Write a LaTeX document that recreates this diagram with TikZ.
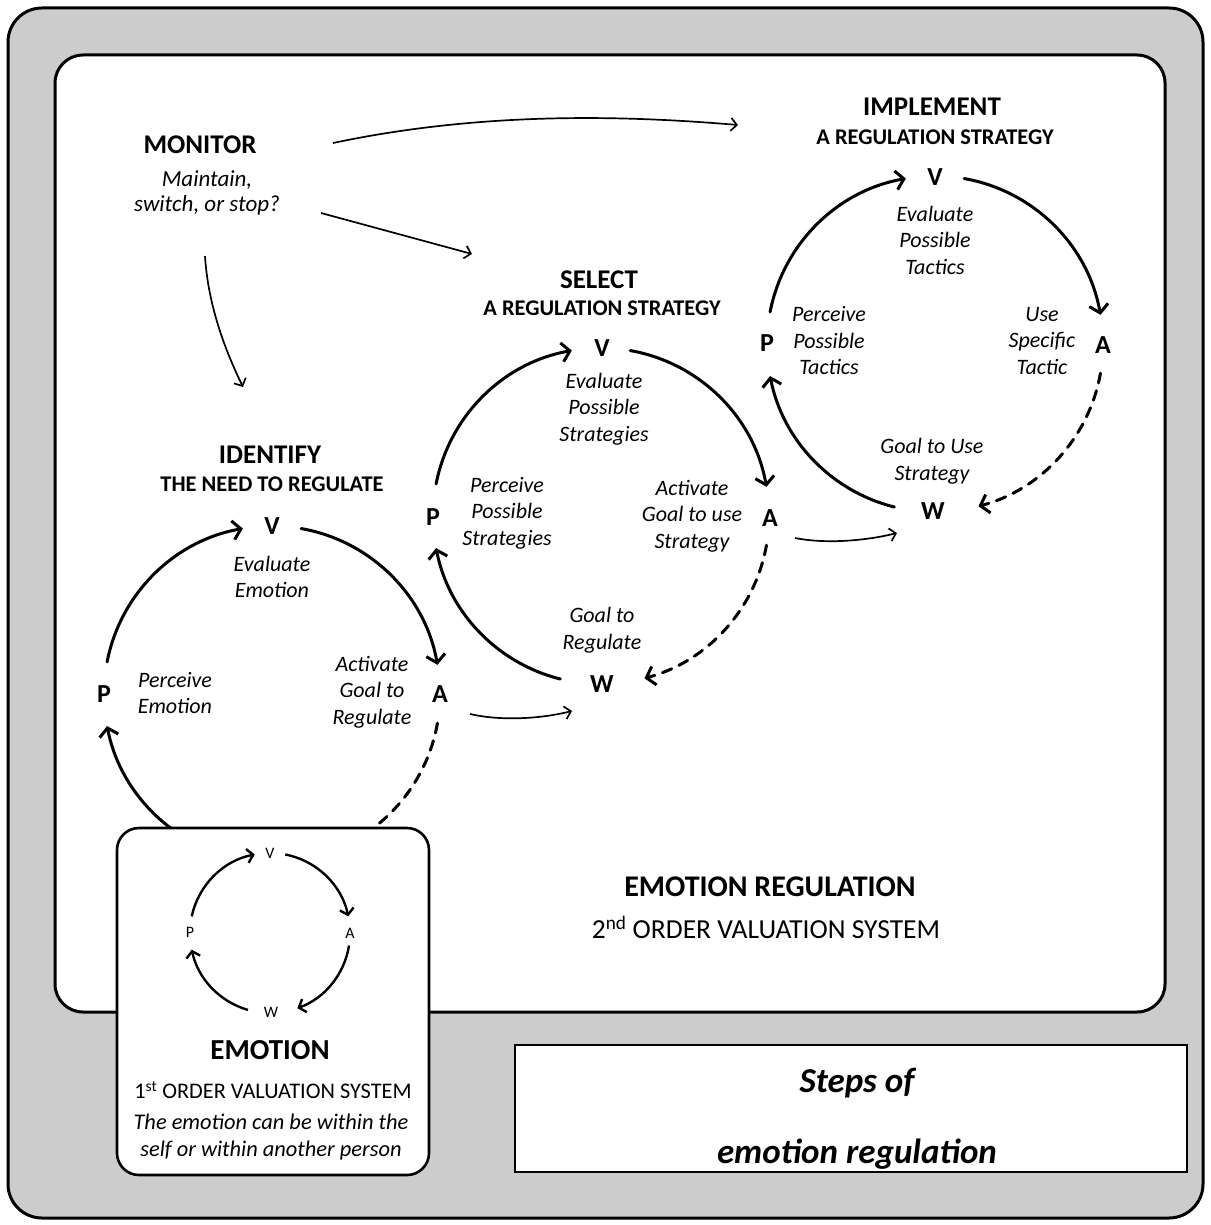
\documentclass[tikz,border=0pt]{standalone}
\usepackage{fontspec}
\setmainfont{Carlito}
\usetikzlibrary{arrows.meta}

\newcommand\setfs[2]{\fontsize{#1}{#2}\selectfont}

\begin{document}
\begin{tikzpicture}[x=1pt,y=-1pt,
  framebox/.style={line width=3pt, draw=black},
  cyc/.style={line width=3pt, line cap=round},
  tip/.style={-{Straight Barb[length=8pt,width=19pt]}},
  dashline/.style={dash pattern=on 10pt off 8pt},
  small/.style={line width=2.4pt},
  stip/.style={-{Straight Barb[length=6pt,width=14pt]}},
  thin/.style={line width=1.7pt, -{Straight Barb[length=6pt,width=13pt]}},
  head/.style={font=\bfseries\setfs{27}{32}},
  subhead/.style={font=\bfseries\setfs{22.4}{26}},
  letter/.style={font=\bfseries\setfs{26}{30}},
  lab/.style={font=\itshape\setfs{22}{26.5}, align=center},
]
\useasboundingbox (0,0) rectangle (1210,1225);

% outer grey frame and white working panel
\draw[framebox, fill=white!80!black, rounded corners=34pt] (8,8) rectangle (1203,1218);
\draw[framebox, fill=white, rounded corners=28pt] (55,55) rectangle (1165,1012);

% ---------- MONITOR ----------
\node[head] (mon) at (200,145) {MONITOR};
\node[lab, font=\itshape\setfs{23}{25}] (monq) at (207,193) {Maintain,\\switch, or stop?};

% ---------- cycle centres ----------
\coordinate (c1) at (272,694);
\coordinate (c2) at (601,516);
\coordinate (c3) at (935,344);
\coordinate (c0) at (270,933);

% ---------- IDENTIFY ----------
\node[head] (id) at (270,455) {IDENTIFY};
\node[subhead] (idsub) at (272,484) {THE NEED TO REGULATE};
\node[letter] (v1) at (272,526) {V};
\node[letter] (a1) at (440,694) {A};
\node[letter] (p1) at (104,694) {P};
\node[lab] (ev1) at (272,577) {Evaluate\\Emotion};
\node[lab] (pe1) at (175,693) {Perceive\\Emotion};
\node[lab] (ac1) at (372,692) {Activate\\Goal to\\Regulate};
\draw[cyc,tip] ([shift={(169:168pt)}]c1) arc[start angle=169,end angle=100,radius=168pt];
\draw[cyc,tip] ([shift={(80:168pt)}]c1) arc[start angle=80,end angle=10,radius=168pt];
\draw[cyc,dashline] ([shift={(-10:168pt)}]c1) arc[start angle=-10,end angle=-70,radius=168pt];
\draw[cyc,tip] ([shift={(-110:168pt)}]c1) arc[start angle=-110,end angle=-169,radius=168pt];

% ---------- SELECT ----------
\node[head] (sel) at (599,280) {SELECT};
\node[subhead] (selsub) at (602,308) {A REGULATION STRATEGY};
\node[letter] (v2) at (602,348) {V};
\node[letter] (a2) at (770,518) {A};
\node[letter] (p2) at (433,517) {P};
\node[letter] (w2) at (602,684) {W};
\node[lab] (ev2) at (604,409) {Evaluate\\Possible\\Strategies};
\node[lab] (pe2) at (507,513) {Perceive\\Possible\\Strategies};
\node[lab] (ac2) at (692,516) {Activate\\Goal to use\\Strategy};
\node[lab] (go2) at (602,630) {Goal to\\Regulate};
\draw[cyc,tip] ([shift={(169:168pt)}]c2) arc[start angle=169,end angle=100,radius=168pt];
\draw[cyc,tip] ([shift={(80:168pt)}]c2) arc[start angle=80,end angle=10,radius=168pt];
\draw[cyc,dashline,tip] ([shift={(-10:168pt)}]c2) arc[start angle=-10,end angle=-75,radius=168pt];
\draw[cyc,tip] ([shift={(-104:168pt)}]c2) arc[start angle=-104,end angle=-169,radius=168pt];

% ---------- IMPLEMENT ----------
\node[head] (imp) at (932,107) {IMPLEMENT};
\node[subhead] (impsub) at (935,137) {A REGULATION STRATEGY};
\node[letter] (v3) at (935,177) {V};
\node[letter] (a3) at (1103,345) {A};
\node[letter] (p3) at (767,343) {P};
\node[letter] (w3) at (933,511) {W};
\node[lab] (ev3) at (935,240) {Evaluate\\Possible\\Tactics};
\node[lab] (pe3) at (829,341) {Perceive\\Possible\\Tactics};
\node[lab] (us3) at (1042,341) {Use\\Specific\\Tactic};
\node[lab] (go3) at (932,461) {Goal to Use\\Strategy};
\draw[cyc,tip] ([shift={(169:168pt)}]c3) arc[start angle=169,end angle=100,radius=168pt];
\draw[cyc,tip] ([shift={(80:168pt)}]c3) arc[start angle=80,end angle=10,radius=168pt];
\draw[cyc,dashline,tip] ([shift={(-10:168pt)}]c3) arc[start angle=-10,end angle=-75,radius=168pt];
\draw[cyc,tip] ([shift={(-104:168pt)}]c3) arc[start angle=-104,end angle=-169,radius=168pt];

% ---------- monitor links and stage links ----------
\coordinate (m1s) at (333,143); \coordinate (m1e) at (738,125);
\coordinate (m2s) at (321,213); \coordinate (m2e) at (472,254);
\coordinate (m3s) at (205,256); \coordinate (m3e) at (243,387);
\coordinate (l1s) at (470,714); \coordinate (l1e) at (572,711);
\coordinate (l2s) at (795,538); \coordinate (l2e) at (897,533);
\draw[thin] (m1s) .. controls (480,112) and (620,115) .. (m1e);
\draw[thin] (m2s) -- (m2e);
\draw[thin] (m3s) .. controls (208,305) and (225,350) .. (m3e);
\draw[thin] (l1s) .. controls (500,721) and (540,719) .. (l1e);
\draw[thin] (l2s) .. controls (825,544) and (865,541) .. (l2e);

% ---------- EMOTION REGULATION caption ----------
\node[font=\bfseries\setfs{30}{34}] (er) at (770,887) {EMOTION REGULATION};
\node[font=\setfs{27.5}{32}] (er2) at (766,927) {2\textsuperscript{nd} ORDER VALUATION SYSTEM};

% ---------- EMOTION box (1st order system) ----------
\draw[framebox, fill=white, line width=2.6pt, rounded corners=22pt] (117,828) rectangle (429,1175);
\node[font=\setfs{16}{18}] (v0) at (270,853) {V};
\node[font=\setfs{16}{18}] (a0) at (350,933) {A};
\node[font=\setfs{16}{18}] (p0) at (190,932) {P};
\node[font=\setfs{16}{18}] (w0) at (271,1012) {W};
\draw[small,stip] ([shift={(168:80pt)}]c0) arc[start angle=168,end angle=101,radius=80pt];
\draw[small,stip] ([shift={(79:80pt)}]c0) arc[start angle=79,end angle=12,radius=80pt];
\draw[small,stip] ([shift={(-9:80pt)}]c0) arc[start angle=-9,end angle=-70,radius=80pt];
\draw[small,stip] ([shift={(-106:80pt)}]c0) arc[start angle=-106,end angle=-168,radius=80pt];
\node[font=\bfseries\setfs{29}{33}] (emo) at (270,1050) {EMOTION};
\node[font=\setfs{22.3}{26}] (emo2) at (273,1090) {1\textsuperscript{st} ORDER VALUATION SYSTEM};
\node[lab, font=\itshape\setfs{22.4}{27}] (emo3) at (271,1137) {The emotion can be within the\\self or within another person};

% ---------- title box ----------
\draw[line width=2pt, fill=white] (515,1045) rectangle (1187,1172);
\node[font=\bfseries\itshape\setfs{35}{40}] (t1) at (857,1083) {Steps of};
\node[font=\bfseries\itshape\setfs{35}{40}] (t2) at (857,1154) {emotion regulation};
\end{tikzpicture}
\end{document}
